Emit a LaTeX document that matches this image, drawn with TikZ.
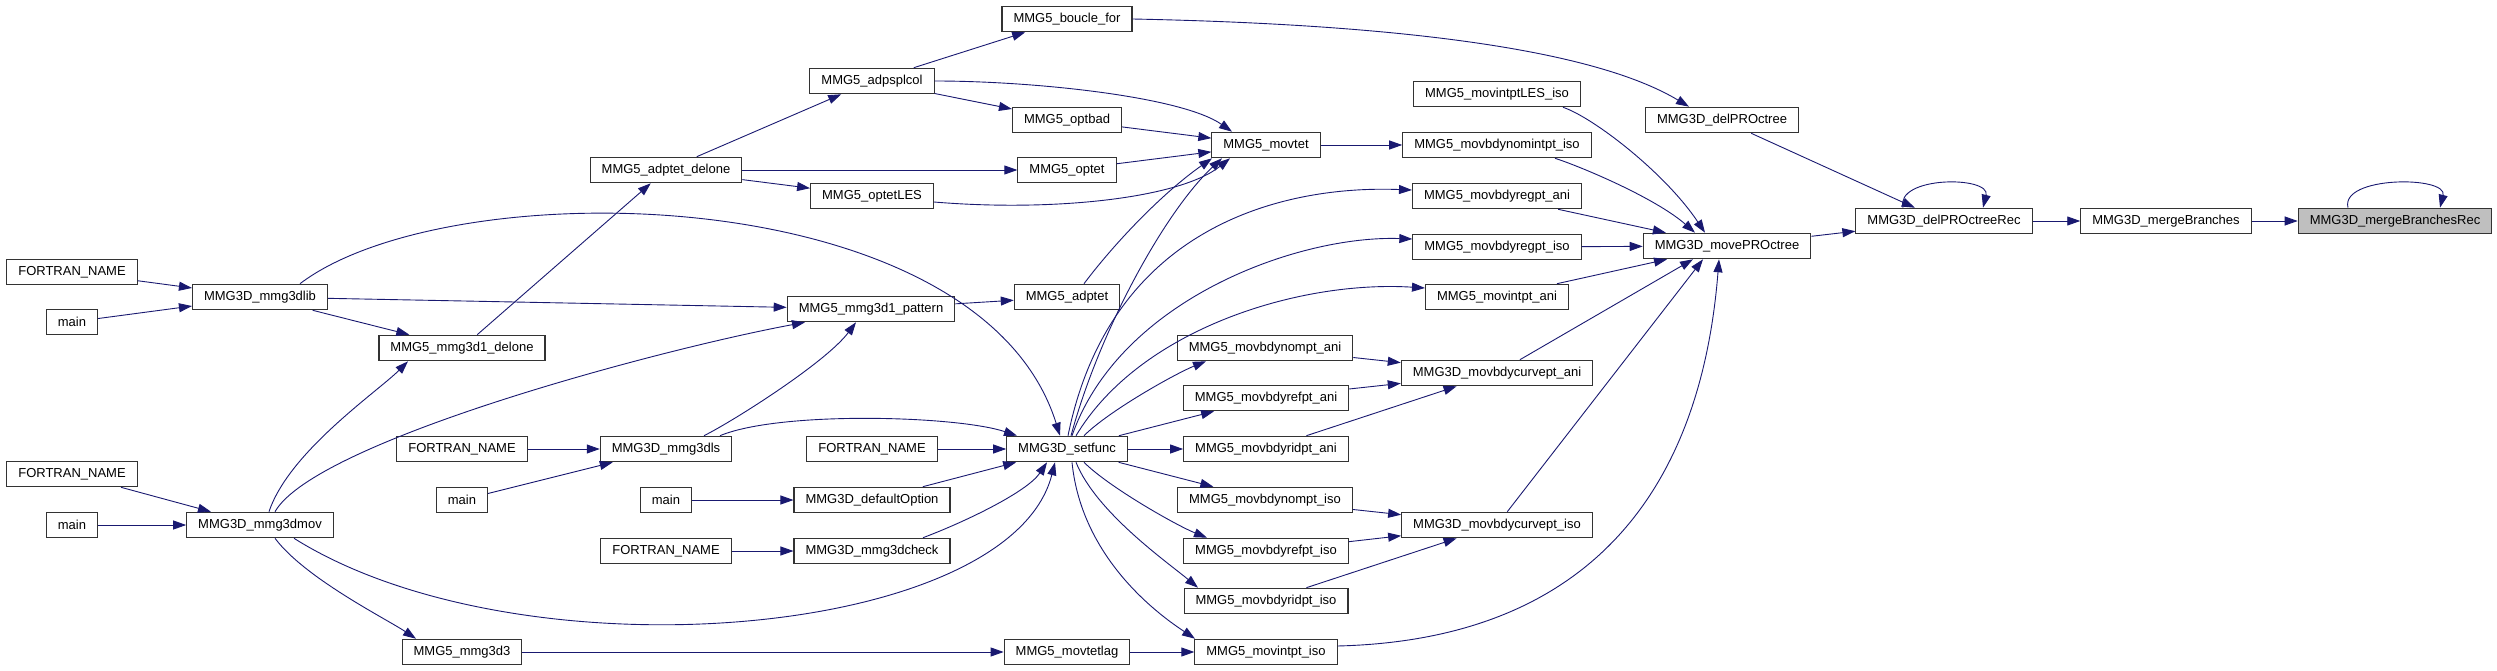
\documentclass[tikz,border=0pt]{standalone}
\usepackage{fontspec}
\setmainfont{Liberation Sans}
\usepackage{tikz}
\usetikzlibrary{arrows.meta, positioning}
\definecolor{midnight}{RGB}{25,25,112}
\tikzset{
  fn/.style={draw=black!80, line width=1.1pt, fill=white, font=\fontsize{13}{15}\selectfont,
    inner xsep=11.5pt, inner ysep=0pt, minimum height=25.5pt},
  cur/.style={fn, fill=black!25},
  call/.style={draw=midnight, line width=0.9pt},
}

\begin{document}
\begin{tikzpicture}[x=1pt, y=-1pt, ->, >={Triangle[length=13pt,width=9pt]}]
    \useasboundingbox (0,0) rectangle (2497,671);
    % first column: outer callers
    \node[fn] (fnA) at (72,272) {FORTRAN\_NAME};
    \node[fn] (mainA) at (72,322) {main};
    \node[fn] (fnB) at (72,474) {FORTRAN\_NAME};
    \node[fn] (mainB) at (72,525) {main};
    \node[fn] (lib) at (260,297) {MMG3D\_mmg3dlib};
    \node[fn] (mov) at (260,525) {MMG3D\_mmg3dmov};
    \node[fn] (d1delone) at (462,348) {MMG5\_mmg3d1\_delone};
    \node[fn] (fnC) at (462,449) {FORTRAN\_NAME};
    \node[fn] (mainC) at (462,500) {main};
    \node[fn] (d3) at (462,652) {MMG5\_mmg3d3};
    \node[fn] (adpdel) at (666,170) {MMG5\_adptet\_delone};
    \node[fn] (dls) at (666,449) {MMG3D\_mmg3dls};
    \node[fn] (mainD) at (666,500) {main};
    \node[fn] (fnD) at (666,551) {FORTRAN\_NAME};
    \node[fn] (splcol) at (872,81) {MMG5\_adpsplcol};
    \node[fn] (optles) at (872,196) {MMG5\_optetLES};
    \node[fn] (pattern) at (871,309) {MMG5\_mmg3d1\_pattern};
    \node[fn] (fnE) at (872,449) {FORTRAN\_NAME};
    \node[fn] (defopt) at (872,500) {MMG3D\_defaultOption};
    \node[fn] (check) at (872,551) {MMG3D\_mmg3dcheck};
    \node[fn] (boucle) at (1067,19) {MMG5\_boucle\_for};
    \node[fn] (optbad) at (1067,120) {MMG5\_optbad};
    \node[fn] (optet) at (1067,170) {MMG5\_optet};
    \node[fn] (adptet) at (1067,297) {MMG5\_adptet};
    \node[fn] (setfunc) at (1067,449) {MMG3D\_setfunc};
    \node[fn] (tetlag) at (1067,652) {MMG5\_movtetlag};
    \node[fn] (movtet) at (1266,145) {MMG5\_movtet};
    \node[fn] (nomA) at (1265,348) {MMG5\_movbdynompt\_ani};
    \node[fn] (refA) at (1266,398) {MMG5\_movbdyrefpt\_ani};
    \node[fn] (ridA) at (1266,449) {MMG5\_movbdyridpt\_ani};
    \node[fn] (nomI) at (1265,500) {MMG5\_movbdynompt\_iso};
    \node[fn] (refI) at (1266,551) {MMG5\_movbdyrefpt\_iso};
    \node[fn] (ridI) at (1266,601) {MMG5\_movbdyridpt\_iso};
    \node[fn] (intI) at (1266,652) {MMG5\_movintpt\_iso};
    \node[fn] (intLES) at (1497,94) {MMG5\_movintptLES\_iso};
    \node[fn] (nomint) at (1497,145) {MMG5\_movbdynomintpt\_iso};
    \node[fn] (regA) at (1497,196) {MMG5\_movbdyregpt\_ani};
    \node[fn] (regI) at (1497,247) {MMG5\_movbdyregpt\_iso};
    \node[fn] (intA) at (1497,297) {MMG5\_movintpt\_ani};
    \node[fn] (curveA) at (1497,373) {MMG3D\_movbdycurvept\_ani};
    \node[fn] (curveI) at (1497,525) {MMG3D\_movbdycurvept\_iso};
    \node[fn] (delPR) at (1722,120) {MMG3D\_delPROctree};
    \node[fn] (movePR) at (1727,246) {MMG3D\_movePROctree};
    \node[fn] (delrec) at (1944,221) {MMG3D\_delPROctreeRec};
    \node[fn] (merge) at (2166,221) {MMG3D\_mergeBranches};
    \node[cur] (mergerec) at (2395,221) {MMG3D\_mergeBranchesRec};

    % callers on the left
    \draw[call] (fnA) -- (lib);
    \draw[call] (mainA) -- (lib);
    \draw[call] (fnB) -- (mov);
    \draw[call] (mainB) -- (mov);
    \draw[call] (fnC) -- (dls);
    \draw[call] (mainC) -- (dls);
    \draw[call] (mainD) -- (defopt);
    \draw[call] (fnD) -- (check);
    \draw[call] (fnE) -- (setfunc);
    % mmg3dlib and mmg3dmov
    \draw[call] (lib) -- (d1delone);
    \draw[call] (lib) -- (pattern);
    \draw[call] ([xshift=40pt]lib.north) .. controls +(150,-114) and +(-80,-257) .. ([xshift=-7pt]setfunc.north);
    \draw[call] ([xshift=9pt]mov.north) .. controls +(20,-60) and +(-30,30) .. ([xshift=-54pt]d1delone.south);
    \draw[call] ([xshift=15pt]mov.north) .. controls +(40,-70) and +(-150,28) .. ([xshift=-66pt]pattern.south);
    \draw[call] ([xshift=34pt]mov.south) .. controls +(226,142) and +(-45,177) .. ([xshift=-12pt]setfunc.south);
    \draw[call] ([xshift=15pt]mov.south) .. controls +(30,40) and +(-30,-20) .. ([xshift=-46pt]d3.north);
    % delone branch
    \draw[call] (d1delone) -- (adpdel);
    \draw[call] (adpdel) -- (splcol);
    \draw[call] (adpdel) -- (optet);
    \draw[call] (adpdel) -- (optles);
    % mmg3dls
    \draw[call] ([xshift=38pt]dls.north) .. controls +(30,-15) and +(-30,40) .. ([xshift=-15pt]pattern.south);
    \draw[call] ([xshift=54pt]dls.north) .. controls +(60,-25) and +(-60,-20) .. ([xshift=-50pt]setfunc.north);
    \draw[call] (pattern) -- (adptet);
    \draw[call] (defopt) -- (setfunc);
    \draw[call] ([xshift=51pt]check.north) .. controls +(40,-15) and +(-20,30) .. ([xshift=-20pt]setfunc.south);
    % adpsplcol
    \draw[call] (splcol) -- (boucle);
    \draw[call] (splcol) -- (optbad);
    \draw[call] (splcol.east) .. controls +(100,0) and +(-50,-35) .. ([xshift=-34pt]movtet.north);
    % into movtet
    \draw[call] (optbad) -- (movtet);
    \draw[call] (optet) -- (movtet);
    \draw[call] ([yshift=-6pt]optles.east) .. controls +(120,10) and +(-50,40) .. ([xshift=-36pt]movtet.south);
    \draw[call] ([xshift=17pt]adptet.north) .. controls +(30,-40) and +(-50,35) .. ([xshift=-54pt]movtet.south);
    \draw[call] ([xshift=4pt]setfunc.north) .. controls +(29,-107) and +(-56,52) .. ([xshift=-44pt]movtet.south);
    % setfunc fan
    \draw[call] ([xshift=1pt]setfunc.north) .. controls +(42,-207) and +(-133,-5) .. ([yshift=6pt]regA.west);
    \draw[call] ([xshift=5pt]setfunc.north) .. controls +(48,-137) and +(-113,-4) .. ([yshift=8pt]regI.west);
    \draw[call] ([xshift=9pt]setfunc.north) .. controls +(64,-107) and +(-125,-8) .. ([yshift=9pt]intA.west);
    \draw[call] ([xshift=17pt]setfunc.north) .. controls +(25,-25) and +(-30,12) .. ([xshift=-59pt]nomA.south);
    \draw[call] (setfunc) -- (refA);
    \draw[call] (setfunc) -- (ridA);
    \draw[call] (setfunc) -- (nomI);
    \draw[call] ([xshift=17pt]setfunc.south) .. controls +(25,25) and +(-30,-12) .. ([xshift=-59pt]refI.north);
    \draw[call] ([xshift=9pt]setfunc.south) .. controls +(20,50) and +(-30,-25) .. ([xshift=-68pt]ridI.north);
    \draw[call] ([xshift=5pt]setfunc.south) .. controls +(10,100) and +(-30,-20) .. ([xshift=-71pt]intI.north);
    % bottom row
    \draw[call] (d3) -- (tetlag);
    \draw[call] (tetlag) -- (intI);
    \draw[call] (movtet) -- (nomint);
    % curvept
    \draw[call] (nomA) -- (curveA);
    \draw[call] (refA) -- (curveA);
    \draw[call] (ridA) -- (curveA);
    \draw[call] (nomI) -- (curveI);
    \draw[call] (refI) -- (curveI);
    \draw[call] (ridI) -- (curveI);
    % into movePROctree
    \draw[call] ([xshift=66pt]intLES.south) .. controls +(30,10) and +(-40,-60) .. ([xshift=-22pt]movePR.north);
    \draw[call] ([xshift=58pt]nomint.south) .. controls +(25,8) and +(-40,-35) .. ([xshift=-32pt]movePR.north);
    \draw[call] (regA) -- (movePR);
    \draw[call] (regI) -- (movePR);
    \draw[call] (intA) -- (movePR);
    \draw[call] (curveA) -- ([xshift=-34pt]movePR.south);
    \draw[call] (curveI) -- ([xshift=-24pt]movePR.south);
    \draw[call] ([yshift=6pt]intI.east) .. controls +(243,-6) and +(-19,241) .. ([xshift=-8pt]movePR.south);
    % octree part
    \draw[call] (boucle.east) .. controls +(250,5) and +(-100,-60) .. ([xshift=-33pt]delPR.north);
    \draw[call] (delPR) -- (delrec);
    \draw[call] (movePR) -- (delrec);
    \draw[call] ([xshift=-41pt]delrec.north) .. controls +(-8,-32) and +(8,-32) .. ([xshift=39pt]delrec.north);
    \draw[call] (delrec) -- (merge);
    \draw[call] (merge) -- (mergerec);
    \draw[call] ([xshift=-47pt]mergerec.north) .. controls +(-8,-32) and +(8,-32) .. ([xshift=45pt]mergerec.north);
\end{tikzpicture}
\end{document}
